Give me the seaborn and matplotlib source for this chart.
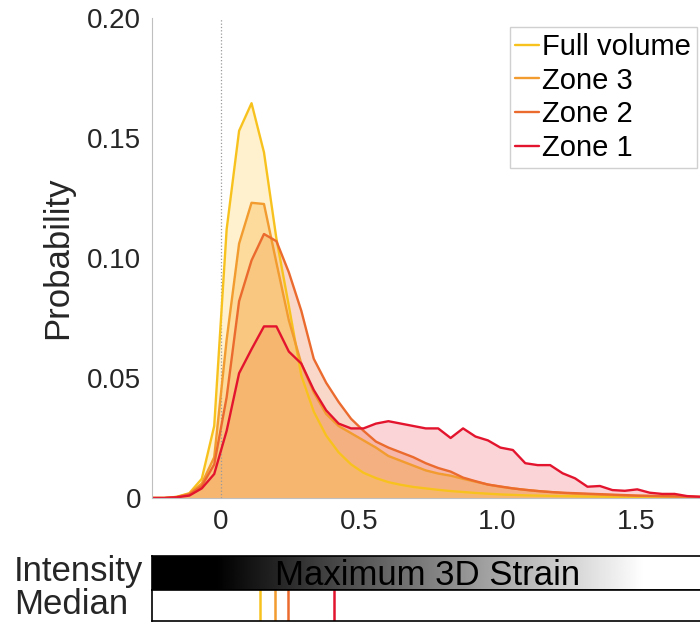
import numpy as np
import pandas as pd
import matplotlib
matplotlib.use('Agg')
import matplotlib.pyplot as plt
import seaborn as sns

# --- DADOS ---
strain = np.round(np.arange(-0.25, 1.78, 0.045), 3)  # centros dos bins

full_volume = [0, 0, 0.0005, 0.002, 0.008, 0.030, 0.112, 0.153, 0.1645, 0.144,
               0.108, 0.080, 0.051, 0.036, 0.026, 0.019, 0.014, 0.0105, 0.0083, 0.0066,
               0.0055, 0.0046, 0.0040, 0.0034, 0.0029, 0.0025, 0.0021, 0.0018, 0.0015, 0.0013,
               0.0011, 0.0010, 0.0009, 0.0008, 0.0007, 0.0006, 0.0006, 0.0005, 0.0005, 0.0004,
               0.0004, 0.0003, 0.0003, 0.0003, 0.0002, 0.0002]
zone3 = [0, 0, 0.0004, 0.0018, 0.006, 0.017, 0.066, 0.106, 0.123, 0.1225,
         0.098, 0.074, 0.056, 0.044, 0.035, 0.030, 0.027, 0.024, 0.021, 0.0175,
         0.0155, 0.0135, 0.0115, 0.0102, 0.0093, 0.0080, 0.0068, 0.0056, 0.0047, 0.0040,
         0.0034, 0.0029, 0.0025, 0.0021, 0.0018, 0.0016, 0.0014, 0.0012, 0.0010, 0.0009,
         0.0008, 0.0007, 0.0006, 0.0005, 0.0004, 0.0004]
zone2 = [0, 0, 0.0004, 0.0015, 0.005, 0.014, 0.042, 0.082, 0.099, 0.110,
         0.107, 0.094, 0.078, 0.058, 0.048, 0.040, 0.033, 0.028, 0.0235, 0.021,
         0.019, 0.017, 0.0145, 0.0125, 0.011, 0.0085, 0.0070, 0.0056, 0.0048, 0.0040,
         0.0034, 0.0029, 0.0025, 0.0022, 0.0020, 0.0018, 0.0016, 0.0014, 0.0012, 0.0010,
         0.0009, 0.0008, 0.0007, 0.0006, 0.0005, 0.0005]
zone1 = [0, 0, 0.0003, 0.001, 0.004, 0.010, 0.028, 0.052, 0.062, 0.0715,
         0.0715, 0.061, 0.056, 0.045, 0.0365, 0.031, 0.029, 0.029, 0.031, 0.032,
         0.031, 0.030, 0.029, 0.029, 0.025, 0.029, 0.0256, 0.024, 0.021, 0.020,
         0.0145, 0.0137, 0.0137, 0.0103, 0.0082, 0.0047, 0.005, 0.0033, 0.003, 0.0036,
         0.0022, 0.0017, 0.0017, 0.0008, 0.0005, 0.0005]

series_names = ['Full volume', 'Zone 3', 'Zone 2', 'Zone 1']
medians = [0.14, 0.196, 0.243, 0.409]

line_colors = ['#F8C21E', '#F29B2E', '#EB6A2E', '#E3152E']
fill_colors = ['#FFC83C', '#F5A028', '#EB6428', '#EB3C46']
fill_alphas = [0.25, 0.30, 0.25, 0.22]

# --- MONTA DATAFRAME LONGO ---
df = pd.concat([
    pd.DataFrame({'strain': strain, 'prob': vals, 'serie': nome})
    for nome, vals in zip(series_names, [full_volume, zone3, zone2, zone1])
], ignore_index=True)

sns.set_style('white')
plt.rcParams['font.family'] = ['Liberation Sans', 'DejaVu Sans']
cor_texto = '#262626'

fig = plt.figure(figsize=(7, 6.22), dpi=100)
W, H = 700, 622
ax = fig.add_axes([152 / W, 1 - 498 / H, 553 / W, 480 / H])
ax_int = fig.add_axes([152 / W, 1 - 590 / H, 553 / W, 34 / H])
ax_med = fig.add_axes([152 / W, 1 - 621 / H, 553 / W, 31 / H])

# áreas preenchidas (Zone 1 embaixo, Full volume por cima)
for nome, fc, fa in list(zip(series_names, fill_colors, fill_alphas))[::-1]:
    sub = df[df['serie'] == nome]
    ax.fill_between(sub['strain'], sub['prob'], 0, color=fc, alpha=fa, linewidth=0)

ax.axvline(0, color='#9a9a9a', ls=':', lw=0.9, zorder=1)

sns.lineplot(data=df, x='strain', y='prob', hue='serie', hue_order=series_names,
             palette=dict(zip(series_names, line_colors)), linewidth=1.7, ax=ax)

ax.set_xlim(-0.25, 1.75)
ax.set_ylim(0, 0.2)
ax.set_xticks([0, 0.5, 1.0, 1.5])
ax.set_xticklabels(['0', '0.5', '1.0', '1.5'])
ax.set_yticks([0, 0.05, 0.10, 0.15, 0.20])
ax.set_yticklabels(['0', '0.05', '0.10', '0.15', '0.20'])
ax.tick_params(direction='in', length=4, labelsize=20, colors=cor_texto, pad=8,
               color='#BFBFBF')
ax.set_xlabel('')
ax.set_ylabel('Probability', fontsize=25, color=cor_texto, labelpad=9)
for s in ['top', 'right']:
    ax.spines[s].set_visible(False)
for s in ['left', 'bottom']:
    ax.spines[s].set_color('#BFBFBF')

sns.move_legend(ax, 'upper right', bbox_to_anchor=(697 / W, 1 - 27 / H),
                bbox_transform=fig.transFigure, title=None, fontsize=21,
                frameon=True, fancybox=False, edgecolor='#D0D0D0', framealpha=1,
                handlelength=0.8, handletextpad=0.12, labelspacing=0.2,
                borderpad=0.2, borderaxespad=0)
for t in ax.get_legend().get_texts():
    t.set_color('black')

# barra de intensidade
gradiente = np.clip((np.linspace(-0.25, 1.75, 600) + 0.02) / 1.55, 0, 1)
ax_int.imshow(gradiente[np.newaxis, :], cmap='gray', vmin=0, vmax=1, aspect='auto',
              extent=[-0.25, 1.75, 0, 1])
ax_int.set_xlim(-0.25, 1.75)
ax_int.set_ylim(0, 1)
ax_int.set_xticks([])
ax_int.set_yticks([])
ax_int.text(0.745, 0.42, 'Maximum 3D Strain', ha='center', va='center', fontsize=25,
            color='black')
for s in ax_int.spines.values():
    s.set_color('black')
    s.set_linewidth(1.2)

# medianas
for m, c in zip(medians, line_colors):
    ax_med.axvline(m, color=c, lw=1.8)
ax_med.set_xlim(-0.25, 1.75)
ax_med.set_ylim(0, 1)
ax_med.set_xticks([0, 0.5, 1.0, 1.5])
ax_med.set_xticklabels([])
ax_med.set_yticks([])
ax_med.tick_params(direction='in', length=3, color='#BFBFBF')
for s in ax_med.spines.values():
    s.set_color('black')
    s.set_linewidth(1.2)

fig.text(14 / W, 1 - 572 / H, 'Intensity', ha='left', va='center', fontsize=25,
         color=cor_texto)
fig.text(14 / W, 1 - 605 / H, 'Median', ha='left', va='center', fontsize=25,
         color=cor_texto)

fig.savefig('out.png', dpi=100)
